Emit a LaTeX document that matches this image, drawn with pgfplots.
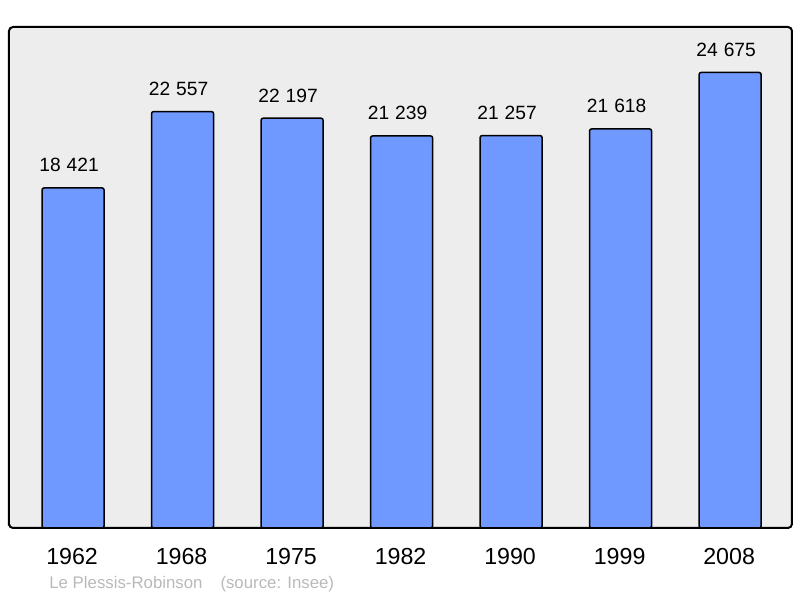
\documentclass[border=0pt]{standalone}
\usepackage{fontspec}
\setmainfont{Liberation Sans}
\usepackage{pgfplots}
\pgfplotsset{compat=1.18}
\usetikzlibrary{calc}
\definecolor{BarBlue}{RGB}{112,153,255}
\definecolor{PanelGray}{RGB}{237,237,237}
\definecolor{NoteGray}{RGB}{185,185,185}

\begin{document}
\begin{tikzpicture}
% page = 800x598 px at 0.5pt per px; axis box starts at (9,528) px
\path[use as bounding box] (-4.5pt,-35pt) rectangle (395.5pt,264pt);
\begin{axis}[
  at={(0,0)}, anchor=south west,
  scale only axis, width=391.5pt, height=250.5pt,
  ybar, bar width=31pt,
  xmin=-0.585, xmax=6.565,
  ymin=0, ymax=27140,
  xtick={0,...,6},
  xticklabels={1962,1968,1975,1982,1990,1999,2008},
  ytick=\empty,
  major tick length=0pt,
  axis line style={line width=1pt, rounded corners=2pt},
  axis background/.style={fill=PanelGray, rounded corners=2pt},
  xticklabel style={font=\fontsize{11.6}{13}\selectfont, anchor=base, xshift=-0.5pt, yshift=-18.3pt},
  nodes near coords={\pgfmathprintnumber[assume math mode=true, 1000 sep={\hspace{3pt}}]{\pgfplotspointmeta}},
  nodes near coords style={font=\fontsize{9.6}{11}\selectfont, anchor=base, xshift=-2pt, yshift=8pt},
  clip=false,
]
\addplot[fill=BarBlue, draw=black, line width=0.75pt, rounded corners=1pt]
  coordinates {(0,18421) (1,22557) (2,22197) (3,21239) (4,21257) (5,21618) (6,24675)};
\end{axis}
\node[anchor=base west, text=NoteGray, inner sep=0pt, font=\fontsize{8.4}{10}\selectfont]
  at (20pt,-30.5pt) {Le Plessis-Robinson\hspace{9pt}(source: Insee)};
\end{tikzpicture}
\end{document}
